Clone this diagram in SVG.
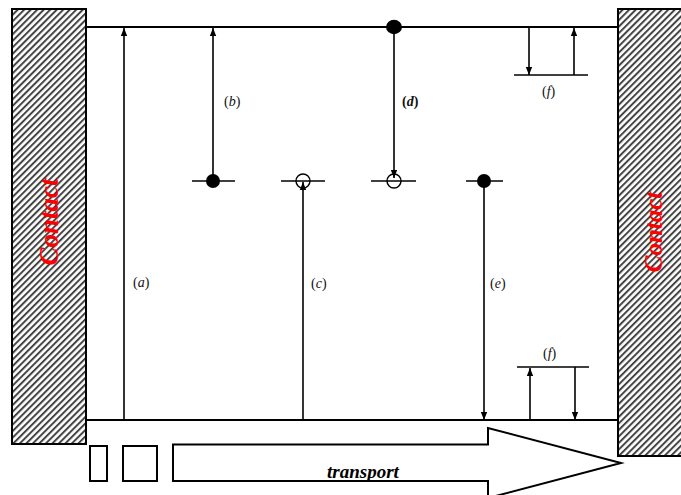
<svg xmlns="http://www.w3.org/2000/svg" width="681" height="495" viewBox="0 0 681 495">
<style>
.ln{stroke:#000;stroke-width:1.6;fill:none}
.bd{stroke:#000;stroke-width:2;fill:none}
.lab{font-family:"Liberation Serif","DejaVu Serif",serif;font-size:14px;fill:#111}
.it{font-style:italic}
.ct{font-family:"Liberation Serif","DejaVu Serif",serif;font-style:italic;font-weight:bold;fill:#ff0000}
.tr{font-family:"Liberation Serif","DejaVu Serif",serif;font-style:italic;font-weight:bold;font-size:19px;fill:#000}
.box{fill:#fff;stroke:#000;stroke-width:2}
</style>
<defs>
<pattern id="hatch" width="4.6" height="4.6" patternUnits="userSpaceOnUse" patternTransform="rotate(-45)">
<rect width="4.6" height="4.6" fill="#fff"/>
<rect width="4.6" height="2" fill="#444"/>
</pattern>
<marker id="ah" markerWidth="8" markerHeight="8" refX="8" refY="4" orient="auto" markerUnits="userSpaceOnUse">
<path d="M0,0.8 L8,4 L0,7.2 Z" fill="#000"/>
</marker>
</defs>
<rect width="681" height="495" fill="#fff"/>

<g id="contact-left">
<rect x="12" y="9" width="74" height="435" fill="url(#hatch)" stroke="#000" stroke-width="2"/>
<text class="ct" font-size="27" transform="translate(58,222) rotate(-90)" text-anchor="middle">Contact</text>
</g>
<g id="contact-right">
<rect x="618" y="9" width="70" height="447" fill="url(#hatch)" stroke="#000" stroke-width="2"/>
<text class="ct" font-size="25" transform="translate(662,232) rotate(-90)" text-anchor="middle">Contact</text>
</g>

<g id="band-edges">
<line class="bd" x1="86" y1="27" x2="618" y2="27"/>
<line class="bd" x1="86" y1="420" x2="618" y2="420"/>
</g>

<g id="connectors">
<line class="ln" x1="124" y1="420" x2="124" y2="28" marker-end="url(#ah)"/>
<line class="ln" x1="213" y1="181" x2="213" y2="28" marker-end="url(#ah)"/>
<line class="ln" x1="303" y1="420" x2="303" y2="182" marker-end="url(#ah)"/>
<line class="ln" x1="394" y1="27" x2="394" y2="178" marker-end="url(#ah)"/>
<line class="ln" x1="484" y1="181" x2="484" y2="420" marker-end="url(#ah)"/>
<line class="ln" x1="529" y1="27" x2="529" y2="75" marker-end="url(#ah)"/>
<line class="ln" x1="574" y1="75" x2="574" y2="28" marker-end="url(#ah)"/>
<line class="ln" x1="530" y1="420" x2="530" y2="368" marker-end="url(#ah)"/>
<line class="ln" x1="575" y1="367" x2="575" y2="420" marker-end="url(#ah)"/>
</g>

<g id="level-b">
<line class="ln" x1="192" y1="181" x2="235" y2="181"/>
<circle cx="213" cy="181" r="7" fill="#000"/>
</g>
<g id="level-c">
<line class="ln" x1="281" y1="181" x2="325" y2="181"/>
<circle cx="303" cy="181" r="7" fill="none" stroke="#000" stroke-width="1.4"/>
</g>
<g id="level-d">
<line class="ln" x1="371" y1="181" x2="416" y2="181"/>
<circle cx="394" cy="181" r="7" fill="none" stroke="#000" stroke-width="1.4"/>
<ellipse cx="394" cy="27" rx="8" ry="7.2" fill="#000"/>
</g>
<g id="level-e">
<line class="ln" x1="466" y1="181" x2="503" y2="181"/>
<circle cx="484" cy="181" r="7" fill="#000"/>
</g>
<g id="level-f-top">
<line class="ln" x1="514" y1="75" x2="588" y2="75"/>
</g>
<g id="level-f-bottom">
<line class="ln" x1="517" y1="367" x2="589" y2="367"/>
</g>

<g id="labels">
<text class="lab" x="133" y="287">(<tspan class="it">a</tspan>)</text>
<text class="lab" x="224" y="106">(<tspan class="it">b</tspan>)</text>
<text class="lab" x="311" y="288">(<tspan class="it">c</tspan>)</text>
<text class="lab" x="402" y="106" font-weight="bold">(<tspan class="it">d</tspan>)</text>
<text class="lab" x="490" y="288">(<tspan class="it">e</tspan>)</text>
<text class="lab" x="542" y="96">(<tspan class="it">f</tspan>)</text>
<text class="lab" x="543" y="358">(<tspan class="it">f</tspan>)</text>
</g>

<g id="transport">
<rect class="box" x="90" y="446" width="17" height="35"/>
<rect class="box" x="123" y="446" width="34" height="35"/>
<path d="M173,444.5 L488,444.5 L488,428 L621,463 L488,498 L488,481 L173,481 Z" fill="#fff" stroke="#000" stroke-width="2"/>
<text class="tr" x="363" y="478" text-anchor="middle">transport</text>
</g>
</svg>
